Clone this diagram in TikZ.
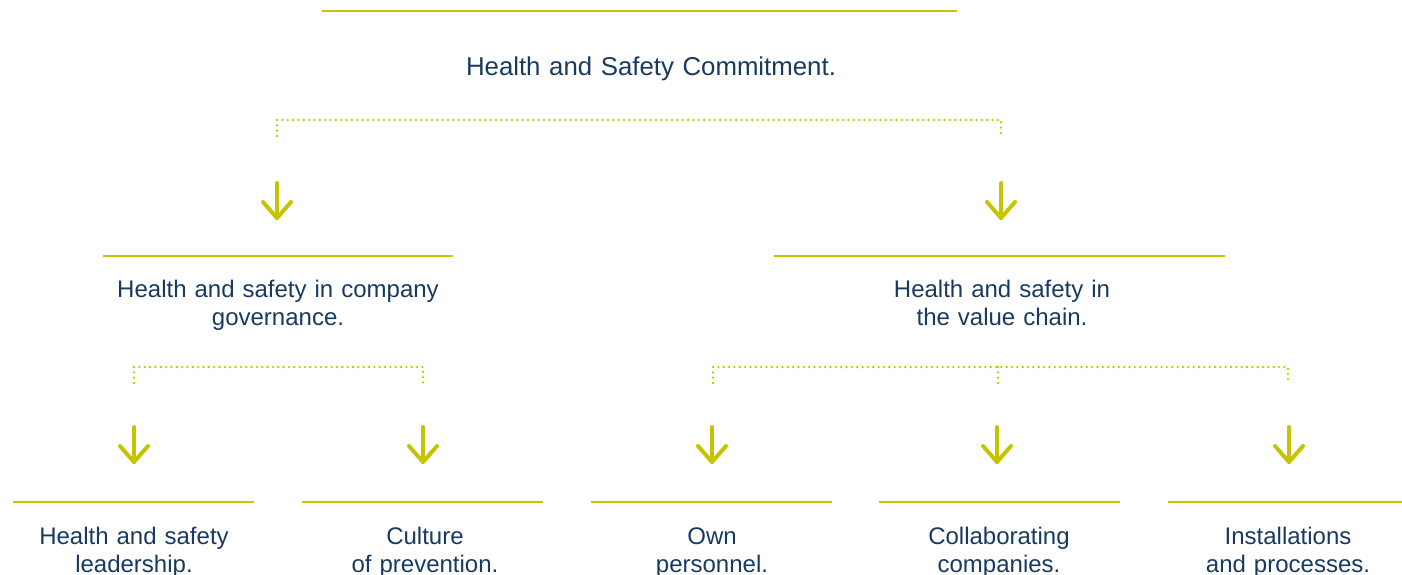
\documentclass[tikz,border=0pt]{standalone}
\usepackage{fontspec}
\setmainfont{Liberation Sans}
\definecolor{olivey}{RGB}{196,196,0}
\definecolor{navyt}{RGB}{24,58,96}
\begin{document}
\begin{tikzpicture}[x=0.5pt,y=-0.5pt,
  rule/.style={draw=olivey, line width=1pt},
  dots/.style={draw=olivey, line width=1.3pt, line cap=round, dash pattern=on 0pt off 2.67pt},
  arr/.style={draw=olivey, line width=2pt, line cap=round, line join=round},
  lbl/.style={text=navyt, font=\fontsize{12}{14}\selectfont, align=center, text width=220pt, inner sep=0pt, anchor=base}]
\useasboundingbox (0,0) rectangle (1402,574);
% top
\coordinate (r0a) at (322,11); \coordinate (r0b) at (957,11);
\draw[rule] (r0a) -- (r0b);
\node[lbl, font=\fontsize{12.9}{14}\selectfont] (top) at (651,75) {Health and Safety Commitment.};
% bracket 1
\coordinate (b1l) at (277,136); \coordinate (b1lu) at (277,120);
\coordinate (b1r) at (1001,136); \coordinate (b1ru) at (1001,120);
\draw[dots] (b1l) -- (b1lu) -- (b1ru) -- (b1r);
% arrows level 1
\foreach \n/\x in {aL/277, aR/1001}{
  \coordinate (\n s) at (\x,183); \coordinate (\n e) at (\x,218);
  \draw[arr] (\n s) -- (\n e);
  \draw[arr] ([shift={(-14,-16)}]\n e) -- (\n e) -- ([shift={(14,-16)}]\n e);
}
% level 2 rules
\coordinate (r1a) at (103,256); \coordinate (r1b) at (453,256);
\coordinate (r2a) at (774,256); \coordinate (r2b) at (1225,256);
\draw[rule] (r1a) -- (r1b);
\draw[rule] (r2a) -- (r2b);
\node[lbl] (gov) at (278,297) {Health and safety in company\\governance.};
\node[lbl] (val) at (1002,297) {Health and safety in\\the value chain.};
% bracket 2 left
\coordinate (b2l) at (134,383); \coordinate (b2lu) at (134,367);
\coordinate (b2r) at (423,383); \coordinate (b2ru) at (423,367);
\draw[dots] (b2l) -- (b2lu) -- (b2ru) -- (b2r);
% bracket 2 right
\coordinate (b3l) at (713,383); \coordinate (b3lu) at (713,367);
\coordinate (b3m) at (998,384); \coordinate (b3mu) at (998,367);
\coordinate (b3r) at (1288,383); \coordinate (b3ru) at (1288,367);
\draw[dots] (b3l) -- (b3lu) -- (b3ru) -- (b3r);
\draw[dots] (b3mu) -- (b3m);
% arrows level 3
\foreach \n/\x in {c1/134, c2/423, c3/712, c4/997, c5/1289}{
  \coordinate (\n s) at (\x,427); \coordinate (\n e) at (\x,462);
  \draw[arr] (\n s) -- (\n e);
  \draw[arr] ([shift={(-14,-16)}]\n e) -- (\n e) -- ([shift={(14,-16)}]\n e);
}
% bottom rules
\foreach \n/\a/\b in {d1/13/254, d2/302/543, d3/591/832, d4/879/1120, d5/1168/1402}{
  \coordinate (\n a) at (\a,502); \coordinate (\n b) at (\b,502);
  \draw[rule] (\n a) -- (\n b);
}
\node[lbl] (lead) at (134,544) {Health and safety\\leadership.};
\node[lbl] (cult) at (425,544) {Culture\\of prevention.};
\node[lbl] (own) at (712,544) {Own\\personnel.};
\node[lbl] (coll) at (999,544) {Collaborating\\companies.};
\node[lbl] (inst) at (1288,544) {Installations\\and processes.};
\end{tikzpicture}
\end{document}
